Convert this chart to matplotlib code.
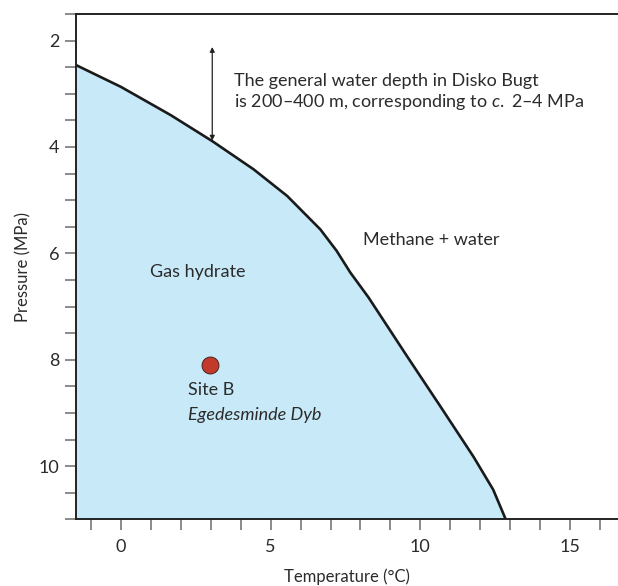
import matplotlib
matplotlib.use("Agg")
import matplotlib.pyplot as plt
from matplotlib.ticker import MultipleLocator

plt.rcParams['font.family'] = ['Lato', 'DejaVu Sans']
plt.rcParams['mathtext.fontset'] = 'custom'
plt.rcParams['mathtext.rm'] = 'Lato'
plt.rcParams['mathtext.it'] = 'Lato:italic'

# hydrate stability boundary
temp_c = [-1.5, 0.0, 1.66, 3.05, 4.43, 5.55, 6.66, 7.2, 7.66, 8.27, 9.55, 10.66, 11.77, 12.43, 12.85]
pressure_mpa = [2.46, 2.87, 3.40, 3.89, 4.42, 4.92, 5.55, 5.95, 6.36, 6.83, 7.93, 8.87, 9.82, 10.44, 11.0]

site_t = 2.97
site_p = 8.09

x_ticks = [0, 5, 10, 15]
y_ticks = [2, 4, 6, 8, 10]

text_col = '#2b2b2b'
fig = plt.figure(figsize=(6.18, 5.86), dpi=100)
ax = fig.add_axes([0.123, 0.1138, 0.877, 0.8623])

ax.fill_between(temp_c, pressure_mpa, 11.0, color='#c8e9f8', lw=0)
ax.plot(temp_c, pressure_mpa, color='#1a1a1a', lw=1.9, solid_joinstyle='round')

ax.scatter([site_t], [site_p], s=150, color='#c23a2b', edgecolor='#3a1a14', lw=0.6, zorder=5)

ax.annotate('', xy=(3.05, 2.12), xytext=(3.05, 3.88),
            arrowprops=dict(arrowstyle='<|-|>', color='#222222', lw=0.9,
                            mutation_scale=7, shrinkA=0, shrinkB=0))

ax.text(3.76, 2.98, 'The general water depth in Disko Bugt\n'
        'is 200–400 m, corresponding to $\\mathit{c.}$ 2–4 MPa',
        fontsize=13, color=text_col, ha='left', va='center', linespacing=1.2)
ax.text(8.1, 5.74, 'Methane + water', fontsize=13, color=text_col, va='center')
ax.text(0.96, 6.35, 'Gas hydrate', fontsize=13, color=text_col, va='center')
ax.text(2.23, 8.56, 'Site B', fontsize=13, color=text_col, va='center')
ax.text(2.23, 9.03, 'Egedesminde Dyb', fontsize=13, color=text_col, va='center', style='italic')

ax.set_xlim(-1.5, 16.6)
ax.set_ylim(11.0, 1.5)
ax.set_xticks(x_ticks)
ax.set_yticks(y_ticks)
ax.xaxis.set_minor_locator(MultipleLocator(1))
ax.yaxis.set_minor_locator(MultipleLocator(0.5))
ax.tick_params(which='both', direction='out', length=8, width=1.2, color='#777777',
               labelsize=13, labelcolor=text_col, pad=4)
ax.tick_params(axis='x', pad=6)

ax.set_xlabel('Temperature (°C)', fontsize=12, color=text_col, labelpad=10)
ax.set_ylabel('Pressure (MPa)', fontsize=12, color=text_col, labelpad=5)

ax.spines['right'].set_visible(False)
for s in ['left', 'bottom', 'top']:
    ax.spines[s].set_color('#222222')
    ax.spines[s].set_linewidth(1.4)

fig.savefig('out.png', dpi=100)
